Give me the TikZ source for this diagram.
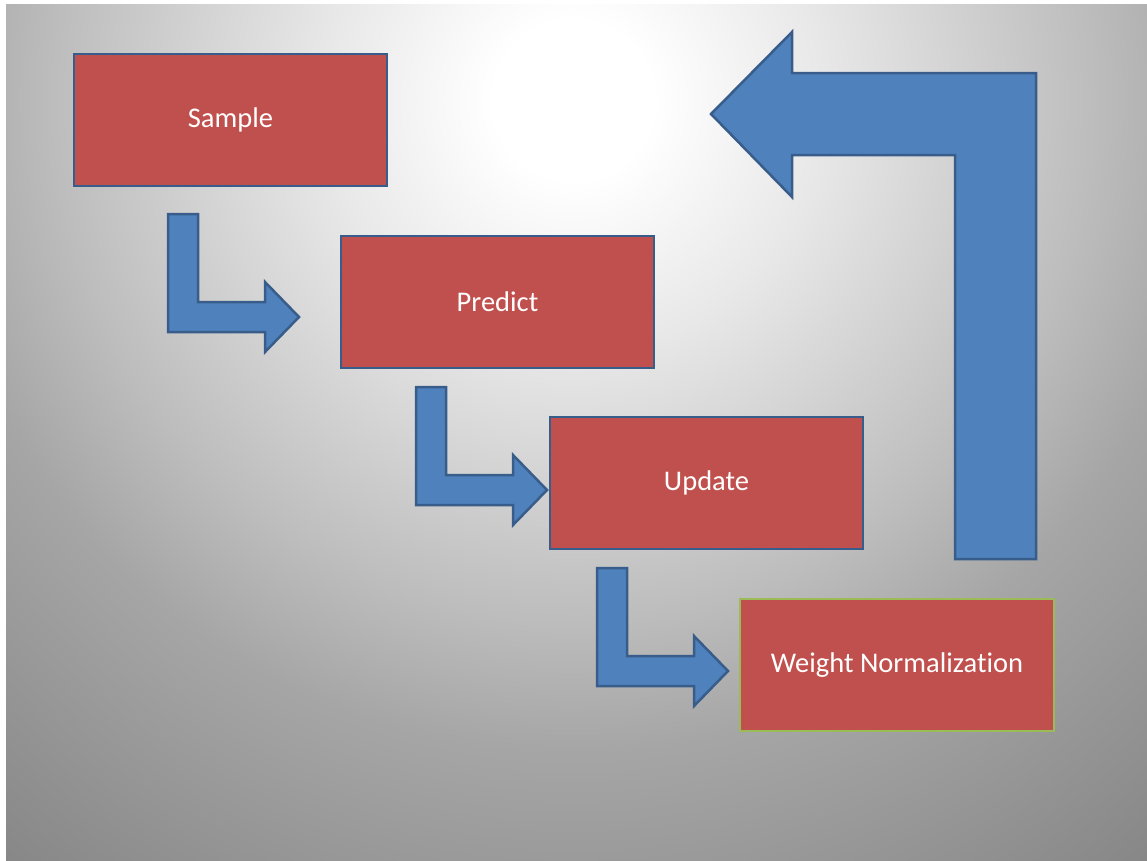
\documentclass[tikz,border=0pt]{standalone}
\usepackage{fontspec}
\setmainfont{Carlito}[Ligatures=NoCommon]
\definecolor{boxred}{HTML}{C0504D}
\definecolor{boxblue}{HTML}{385D8A}
\definecolor{arrowblue}{HTML}{4F81BD}
\definecolor{boxgreen}{HTML}{9BBB59}
\pgfdeclareradialshading{bgshade}{\pgfpoint{0bp}{0bp}}{color(0bp)=(white); color(2bp)=(white); color(6.25bp)=(black!9); color(13bp)=(black!26); color(16.25bp)=(black!35); color(23.75bp)=(black!47); color(25bp)=(black!49); color(50bp)=(black!49)}
\tikzset{
  stepbox/.style={draw=boxblue, line width=2.5pt, fill=boxred, minimum width=313pt, minimum height=132pt, inner sep=0pt, text=white, font=\fontsize{28.5}{34}\selectfont},
  blockarrow/.style={draw=boxblue, line width=2.5pt, fill=arrowblue, line join=miter},
  pics/bentarrow/.style={code={
    \draw[blockarrow] (0,0) -- (30,0) -- (30,88) -- (97,88) -- (97,68) -- (131,103) -- (97,138) -- (97,118) -- (0,118) -- cycle;
  }}
}
\begin{document}
\begin{tikzpicture}[x=1pt,y=-1pt]
\useasboundingbox[fill=white] (0,0) rectangle (1147,860);
\begin{scope}
\clip (6,4) rectangle (1147,860);
\shade[shading=bgshade] (-427,-900) rectangle (1573,1100);
\end{scope}
\node[stepbox] (sample) at (230.5,120) {Sample};
\node[stepbox] (predict) at (497.5,302) {Predict};
\node[stepbox] (update) at (706.5,483) {Update};
\node[stepbox, draw=boxgreen, minimum width=314pt] (weight) at (897,665) {Weight Normalization};
\pic at (168,214) {bentarrow};
\pic at (416,387) {bentarrow};
\pic at (597,568) {bentarrow};
\draw[blockarrow] (1036,559) -- (1036,73) -- (792,73) -- (792,32) -- (711,114) -- (792,197) -- (792,155) -- (955,155) -- (955,559) -- cycle;
\end{tikzpicture}
\end{document}
